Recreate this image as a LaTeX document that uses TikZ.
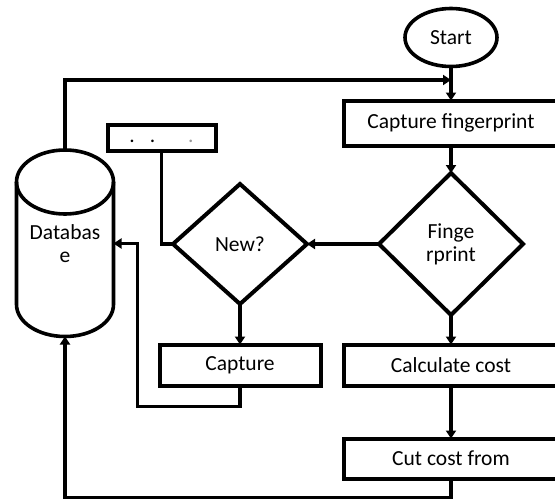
\documentclass[tikz,border=0pt]{standalone}
\usepackage{fontspec}
\setmainfont{Carlito}
\usetikzlibrary{shapes.geometric,arrows.meta}
\begin{document}
\begin{tikzpicture}[x=1pt,y=1pt,yscale=-1,
  every node/.style={font=\fontsize{21.5}{23}\selectfont, inner sep=0pt, outer sep=0pt},
  box/.style={draw, line width=4pt, rectangle},
  decision/.style={draw, line width=4pt, diamond, align=center},
  terminal/.style={draw, line width=3.6pt, ellipse},
  link/.style={line width=3.2pt},
  arr/.style={link, -{Triangle[length=8pt,width=10pt]}}]
\useasboundingbox (0,0) rectangle (555,501);

% process steps
\node[terminal, minimum width=92pt, minimum height=58pt] (start) at (451,37.5) {Start};
\node[box, minimum width=215pt, minimum height=45pt] (cfp) at (451,123) {Capture fingerprint};
\node[box, minimum width=108pt, minimum height=26pt] (sbox) at (161.5,137.5)
  {\strut.\hspace{15pt}.\hspace{33pt}\textcolor{black!40}{.}};
\node[decision, minimum width=144pt, minimum height=142pt] (fp) at (451,244) {Finge\\rprint};
\node[decision, minimum width=134pt, minimum height=120pt] (new) at (240,244) {New?};
\node[box, minimum width=161pt, minimum height=41pt] (capture) at (240,365) {Capture};
\node[box, minimum width=215pt, minimum height=41pt] (calc) at (451,365) {Calculate cost};
\node[box, minimum width=215pt, minimum height=40pt] (cut) at (451,458.5) {Cut cost from};

% database cylinder
\node[minimum width=97pt, minimum height=186pt, align=center] (db) at (65,243.5) {Databas\\e};
\draw[line width=3.6pt] (65,182) ellipse [x radius=48.5pt, y radius=32pt];
\draw[line width=3.6pt] (16.5,182) -- (16.5,304.5)
  .. controls (16.5,322.2) and (38.2,336.5) .. (65,336.5)
  .. controls (91.8,336.5) and (113.5,322.2) .. (113.5,304.5) -- (113.5,182);

% connectors
\coordinate (junc) at (451,80);
\draw[arr] (start.south) -- (cfp.north);
\draw[arr] (db.north) |- (junc);
\draw[arr] (cfp.south) -- (fp.north);
\draw[arr] (fp.west) -- (new.east);
\draw[link] (sbox.south) |- (new.west);
\draw[arr] (new.south) -- (capture.north);
\draw[arr] (fp.south) -- (calc.north);
\draw[arr] (calc.south) -- (cut.north);
\draw[arr] (capture.south) -- ++(0,21) -| ([xshift=24pt]db.east) -- (db.east);
\draw[arr] (cut.south) -- ++(0,19) -| (db.south);
\end{tikzpicture}
\end{document}
